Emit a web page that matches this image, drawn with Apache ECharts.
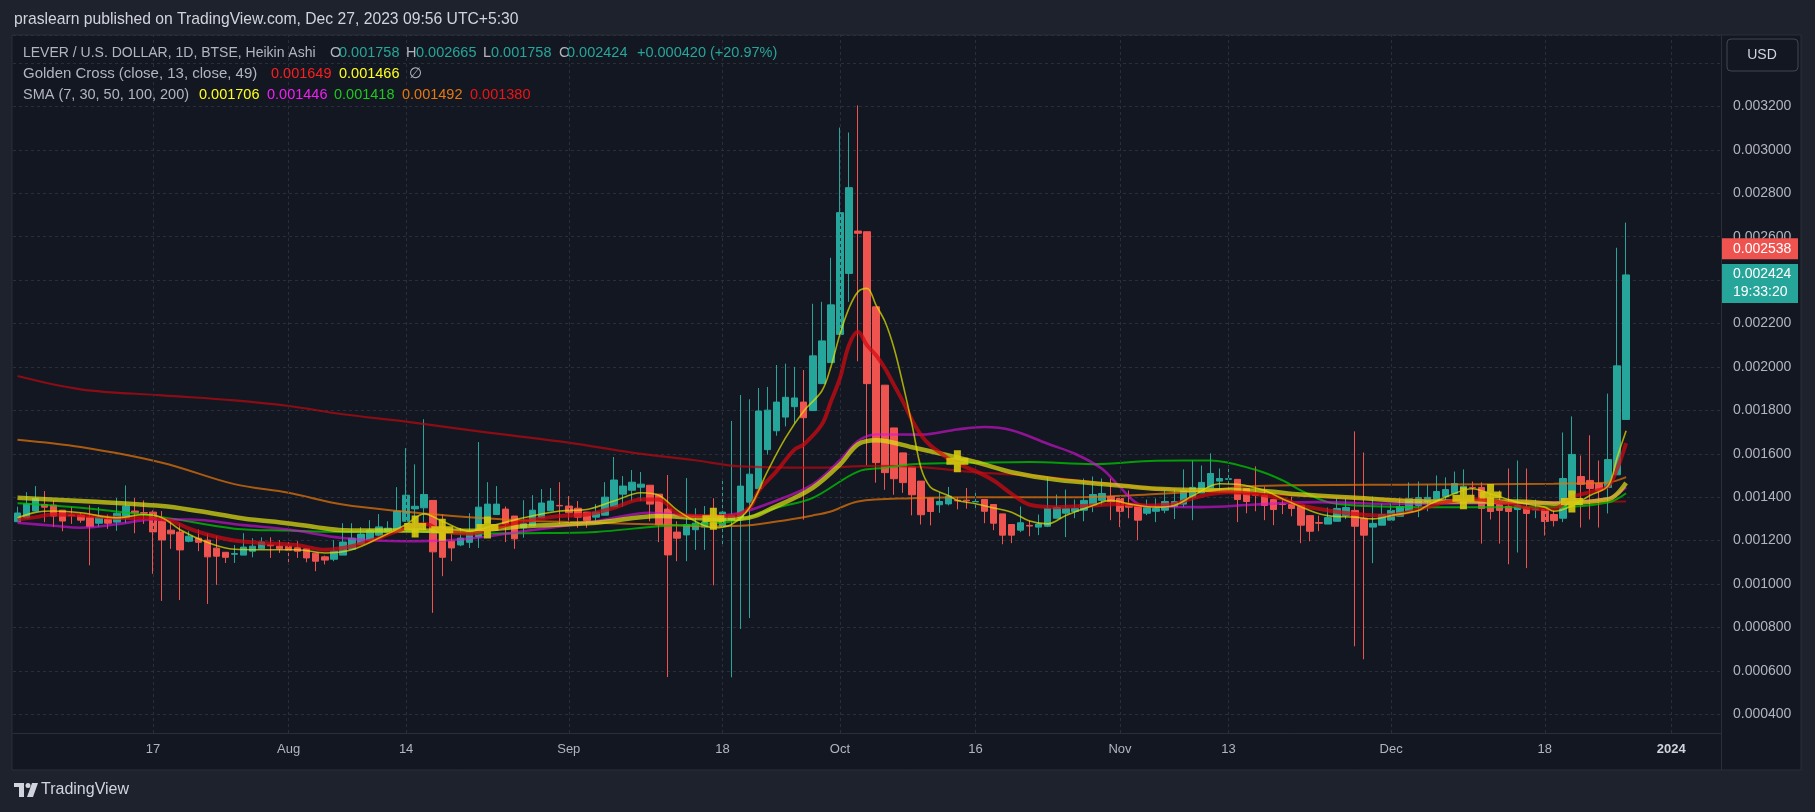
<!DOCTYPE html>
<html><head><meta charset="utf-8">
<script src="https://cdn.jsdelivr.net/npm/echarts@6/dist/echarts.min.js"></script>
<style>html,body{margin:0;padding:0;background:#1e222d;overflow:hidden}#c{width:1815px;height:812px}</style>
</head><body><div id="c"></div>
<script>
// ---------- DATA ----------
const startDate = '2023-07-02';
const slotCount = 189; // daily slots on the time axis (last candle = index 178)
const haOpen = [
.001287,.001305,.001336,.001366,.001363,.001340,.001318,.001317,.001308,.001280,
.001299,.001285,.001305,.001336,.001329,.001331,.001289,.001248,.001239,.001197,
.001211,.001202,.001165,.001146,.001137,.001133,.001151,.001162,.001180,.001174,
.001174,.001167,.001162,.001142,.001125,.001114,.001133,.001160,.001183,.001202,
.001225,.001239,.001248,.001289,.001346,.001351,.001385,.001266,.001197,.001180,
.001192,.001217,.001282,.001320,.001345,.001313,.001259,.001268,.001305,.001337,
.001362,.001359,.001349,.001331,.001308,.001317,.001356,.001414,.001432,.001446,
.001455,.001414,.001345,.001239,.001226,.001250,.001262,.001277,.001266,.001297,
.001305,.001377,.001439,.001619,.001706,.001769,.001817,.001838,.001799,.001923,
.002020,.002150,.002431,.002626,.002623,.002277,.001916,.001719,.001604,.001539,
.001474,.001396,.001365,.001369,.001386,.001386,.001378,.001389,.001366,.001323,
.001274,.001248,.001270,.001262,.001266,.001303,.001326,.001334,.001340,.001363,
.001385,.001403,.001394,.001366,.001362,.001326,.001335,.001340,.001357,.001368,
.001400,.001419,.001443,.001474,.001482,.001482,.001440,.001412,.001408,.001389,
.001368,.001366,.001362,.001315,.001283,.001276,.001289,.001315,.001339,.001302,
.001262,.001271,.001294,.001312,.001336,.001362,.001380,.001385,.001403,.001417,
.001440,.001445,.001445,.001399,.001366,.001357,.001343,.001352,.001343,.001343,
.001320,.001303,.001389,.001495,.001477,.001463,.001445,.001503,.001758];
const haClose = [
.001327,.001369,.001394,.001354,.001313,.001290,.001315,.001294,.001264,.001308,
.001280,.001326,.001359,.001328,.001326,.001240,.001203,.001231,.001157,.001220,
.001192,.001125,.001128,.001123,.001140,.001170,.001174,.001193,.001176,.001162,
.001156,.001151,.001120,.001105,.001110,.001151,.001193,.001211,.001230,.001248,
.001263,.001257,.001336,.001409,.001358,.001412,.001148,.001123,.001166,.001211,
.001243,.001354,.001368,.001368,.001276,.001208,.001279,.001340,.001373,.001382,
.001360,.001328,.001308,.001292,.001331,.001400,.001479,.001451,.001469,.001460,
.001368,.001273,.001134,.001211,.001273,.001280,.001285,.001259,.001331,.001317,
.001451,.001506,.001797,.001801,.001838,.001860,.001857,.001766,.002051,.002120,
.002286,.002711,.002826,.002616,.001923,.001559,.001513,.001485,.001467,.001411,
.001319,.001334,.001380,.001405,.001383,.001383,.001380,.001335,.001280,.001225,
.001225,.001282,.001267,.001276,.001348,.001352,.001348,.001348,.001385,.001412,
.001417,.001379,.001335,.001354,.001294,.001352,.001348,.001380,.001380,.001431,
.001445,.001468,.001509,.001486,.001485,.001389,.001380,.001409,.001362,.001343,
.001366,.001348,.001271,.001243,.001280,.001306,.001348,.001352,.001266,.001225,
.001279,.001320,.001339,.001357,.001394,.001398,.001399,.001426,.001435,.001463,
.001450,.001443,.001348,.001334,.001339,.001334,.001362,.001325,.001345,.001288,
.001292,.001486,.001597,.001459,.001440,.001431,.001573,.002005,.002424];
const haHigh = [
.001356,.001423,.001451,.001428,.001384,.001340,.001356,.001328,.001363,.001354,
.001320,.001396,.001454,.001396,.001385,.001339,.001336,.001289,.001279,.001243,
.001251,.001232,.001220,.001146,.001179,.001234,.001211,.001215,.001215,.001202,
.001193,.001197,.001162,.001142,.001131,.001202,.001280,.001280,.001262,.001294,
.001322,.001289,.001446,.001626,.001551,.001759,.001385,.001320,.001248,.001257,
.001326,.001654,.001469,.001451,.001357,.001313,.001386,.001409,.001437,.001442,
.001469,.001405,.001382,.001331,.001368,.001469,.001585,.001497,.001525,.001516,
.001455,.001414,.001502,.001289,.001488,.001349,.001359,.001395,.001483,.001751,
.001871,.001851,.001903,.001908,.002009,.002015,.002000,.001986,.002291,.002300,
.002503,.003103,.003080,.003205,.002623,.002277,.001916,.001719,.001604,.001539,
.001474,.001396,.001420,.001447,.001400,.001442,.001427,.001389,.001366,.001323,
.001274,.001357,.001292,.001320,.001495,.001412,.001435,.001389,.001486,.001495,
.001486,.001486,.001394,.001431,.001362,.001389,.001394,.001431,.001440,.001528,
.001569,.001546,.001602,.001532,.001546,.001482,.001440,.001542,.001449,.001389,
.001394,.001403,.001362,.001315,.001315,.001352,.001394,.001394,.001703,.001606,
.001403,.001371,.001371,.001398,.001468,.001472,.001458,.001500,.001491,.001518,
.001528,.001472,.001468,.001420,.001431,.001532,.001569,.001532,.001389,.001343,
.001339,.001698,.001772,.001592,.001685,.001569,.001877,.002549,.002665];
const haLow = [
.001287,.001305,.001336,.001285,.001262,.001243,.001277,.001282,.001086,.001263,
.001254,.001245,.001280,.001234,.001277,.001047,.000922,.001162,.000926,.001192,
.001151,.000908,.000996,.001097,.001097,.001133,.001123,.001162,.001120,.001143,
.001093,.001120,.001100,.001059,.001090,.001105,.001133,.001160,.001183,.001202,
.001220,.001228,.001248,.001289,.001217,.001248,.000867,.001036,.001105,.001174,
.001166,.001166,.001282,.001320,.001193,.001162,.001213,.001268,.001305,.001337,
.001277,.001292,.001259,.001259,.001289,.001317,.001356,.001356,.001382,.001382,
.001289,.001193,.000571,.001105,.001105,.001157,.001157,.000994,.001180,.000570,
.000793,.000843,.001439,.001596,.001683,.001726,.001739,.001296,.001799,.001923,
.002020,.002150,.002300,.002026,.001547,.001467,.001434,.001411,.001420,.001316,
.001274,.001270,.001328,.001362,.001344,.001347,.001347,.001280,.001248,.001183,
.001188,.001239,.001220,.001225,.001262,.001303,.001216,.001303,.001289,.001331,
.001363,.001294,.001262,.001303,.001202,.001317,.001285,.001326,.001299,.001354,
.001294,.001419,.001443,.001419,.001431,.001285,.001326,.001335,.001294,.001271,
.001322,.001312,.001188,.001197,.001243,.001276,.001289,.001299,.000713,.000653,
.001096,.001271,.001294,.001312,.001336,.001308,.001335,.001385,.001380,.001417,
.001389,.001385,.001186,.001297,.001186,.001091,.001145,.001073,.001303,.001223,
.001265,.001285,.001389,.001260,.001297,.001260,.001325,.001503,.001758];

// moving averages read at sample bars: [barIndex, value]
const sma7 = [[0,.001305],[2,.00133],[4,.001336],[7,.001328],[11,.001305],[14,.00132],[16,.001305],[18,.00125],[21,.001192],[24,.00116],[27,.001158],[31,.001158],[34,.001143],[37,.001158],[40,.001212],[43,.001274],[45,.001323],[47,.001289],[50,.001243],[53,.001274],[56,.001305],[60,.001336],[63,.001343],[66,.001382],[69,.00142],[71,.001408],[73,.00134],[75,.001289],[77,.001259],[79,.001274],[81,.001351],[83,.00152],[85,.001674],[87,.001797],[89,.001889],[90,.002],[91,.00215],[92,.00227],[93,.002346],[94,.002362],[95,.002285],[96,.002208],[97,.002085],[98,.001916],[99,.001731],[100,.001531],[101,.001447],[102,.001424],[103,.001408],[104,.001385],[106,.00137],[108,.00135],[110,.001331],[112,.00129],[114,.001277],[116,.001316],[119,.001362],[121,.001385],[123,.001369],[126,.001354],[128,.001362],[130,.001405],[133,.001462],[135,.001459],[138,.001431],[140,.001392],[143,.001339],[145,.001315],[148,.001308],[150,.0013],[152,.001315],[155,.001339],[156,.001362],[158,.0014],[161,.001439],[163,.001415],[166,.001377],[169,.001354],[170,.001335],[172,.00136],[174,.001408],[176,.001452],[177,.001582],[178,.001706]];
const sma30 = [[0,.001282],[4,.001268],[7,.001259],[11,.001275],[15,.001297],[19,.001297],[25,.001271],[30,.001251],[36,.001212],[43,.001197],[49,.001205],[56,.001243],[64,.001289],[70,.001328],[75,.001313],[79,.00132],[84,.001385],[88,.001459],[91,.00157],[93,.001659],[95,.001689],[100,.001688],[104,.001712],[107,.001723],[110,.001708],[114,.001646],[117,.0016],[120,.001531],[122,.001446],[124,.001369],[126,.001357],[131,.001354],[137,.001366],[144,.001377],[152,.001369],[160,.001372],[170,.001375],[176,.001395],[178,.001446]];
const sma50 = [[0,.001372],[7,.001351],[16,.001308],[24,.001255],[30,.001246],[36,.00124],[43,.001243],[50,.001232],[56,.001234],[64,.00124],[71,.001266],[76,.001275],[80,.001296],[84,.001351],[88,.001397],[93,.001518],[96,.001535],[99,.001552],[106,.001558],[112,.001562],[119,.001552],[126,.001568],[132,.001569],[137,.001526],[140,.001477],[142,.001431],[145,.001377],[148,.001362],[156,.001354],[170,.001354],[176,.001375],[178,.001418]];
const sma100 = [[0,.001665],[7,.001631],[16,.001559],[24,.00146],[30,.00142],[36,.001366],[43,.001333],[50,.001308],[56,.001293],[64,.001282],[71,.001274],[76,.001266],[80,.001268],[84,.001288],[88,.001316],[90,.001334],[93,.00138],[99,.001395],[106,.0014],[117,.0014],[125,.001412],[131,.001428],[137,.001452],[156,.001458],[170,.001462],[176,.001468],[178,.001492]];
const sma200 = [[0,.001958],[7,.001897],[16,.001869],[24,.001846],[30,.00182],[36,.001782],[43,.001748],[50,.001709],[61,.001651],[68,.001605],[75,.00157],[80,.001542],[88,.001536],[95,.001544],[100,.001538],[106,.001514],[112,.0015],[119,.001469],[126,.001439],[131,.00143],[140,.00141],[150,.001393],[160,.001383],[170,.001377],[178,.00138]];
const gcFast13 = [[0,.001297],[2,.001308],[4,.00132],[7,.001317],[11,.001305],[15,.001303],[17,.00129],[19,.001255],[21,.001228],[24,.0012],[27,.001189],[31,.001179],[34,.001158],[37,.001174],[40,.001212],[43,.001259],[45,.001277],[47,.001245],[50,.001231],[53,.001259],[56,.001289],[60,.001313],[63,.00132],[66,.001351],[69,.001389],[71,.001389],[73,.001325],[75,.001313],[79,.001313],[81,.001351],[82,.001428],[84,.00152],[86,.00162],[87,.001643],[89,.001735],[90,.00184],[91,.001947],[92,.0021],[93,.002162],[94,.0021],[95,.002054],[96,.001993],[97,.001916],[98,.001839],[99,.001754],[100,.001685],[101,.001639],[102,.001608],[103,.001577],[104,.001554],[106,.00152],[108,.001477],[110,.001415],[112,.001365],[115,.001354],[119,.001362],[122,.001369],[125,.001362],[128,.001369],[130,.001395],[132,.001415],[134,.001423],[137,.001415],[140,.001392],[142,.001362],[145,.001339],[148,.001323],[151,.001315],[153,.001323],[156,.001354],[158,.001377],[161,.001392],[165,.001369],[168,.001346],[170,.001346],[172,.0014],[174,.001423],[176,.00145],[177,.00153],[178,.001649]];
const gcSlow49 = [[0,.001397],[7,.001382],[16,.001359],[20,.001336],[25,.001302],[30,.001279],[33,.001262],[36,.001248],[43,.001246],[50,.001245],[56,.001266],[64,.001282],[71,.001313],[76,.001302],[80,.0013],[84,.001359],[88,.001443],[91,.00155],[93,.001643],[95,.001662],[99,.00163],[106,.001562],[110,.001515],[115,.00148],[122,.001454],[126,.001439],[131,.001433],[137,.001431],[142,.001412],[148,.001397],[156,.00138],[166,.00138],[170,.00137],[176,.00139],[177,.001415],[178,.001466]];
const crossMarks = [[44,.001265],[47,.00125],[52,.00126],[77,.0013],[104,.001565],[160,.001395],[163,.00141],[172,.00138]];

const tickDates = ['2023-07-17','2023-08-01','2023-08-14','2023-09-01','2023-09-18','2023-10-01','2023-10-16','2023-11-01','2023-11-13','2023-12-01','2023-12-18','2024-01-01'];
const tickTexts = ['17','Aug','14','Sep','18','Oct','16','Nov','13','Dec','18','2024'];
const lastClose = 0.002424, realPrice = 0.002538;

// ---------- BUILD ----------
const categories = [];
{ const d0 = new Date(startDate + 'T00:00:00Z');
  for (let i = 0; i < slotCount; i++) { const d = new Date(d0.getTime() + i*86400000); categories.push(d.toISOString().slice(0,10)); } }
const tickMap = {}; tickDates.forEach((d,k)=>{ tickMap[d] = tickTexts[k]; });
const candles = haOpen.map((o,i)=>[o, haClose[i], haLow[i], haHigh[i]]);

const FONT = '"Liberation Sans", Arial, sans-serif';
const GRID = {left:13, right:94, top:35, bottom:79};
const chart = echarts.init(document.getElementById('c'), null, {width:1815, height:812});

function maLine(name, data, color, width, z){
  return {name, type:'line', data, smooth:0.35, showSymbol:false, symbol:'none', silent:true, z,
          lineStyle:{color, width}, emphasis:{disabled:true}};
}
const crossColor = 'rgba(214,202,16,0.9)';

const option = {
  animation:false,
  backgroundColor:'#1e222d',
  textStyle:{fontFamily:FONT},
  grid:[{left:GRID.left, right:GRID.right, top:GRID.top, bottom:GRID.bottom, containLabel:false}],
  xAxis:{type:'category', data:categories, boundaryGap:true,
    axisLine:{show:true, lineStyle:{color:'#2a2e39'}}, axisTick:{show:false},
    axisLabel:{interval:(idx,val)=>tickMap[val]!==undefined, color:'#b2b5be', fontSize:13, margin:10, fontFamily:FONT,
      formatter:(val)=>{ const t = tickMap[val]; if(t===undefined) return ''; return t==='2024' ? '{y|2024}' : t; },
      rich:{y:{fontWeight:'bold', color:'#d1d4dc', fontSize:13, fontFamily:FONT}}},
    splitLine:{show:false}},
  yAxis:{type:'value', position:'right', min:0.0003134, max:0.0035294, splitNumber:16, minInterval:0.0002, maxInterval:0.0002,
    axisLine:{show:true, lineStyle:{color:'#2a2e39'}}, axisTick:{show:false},
    axisLabel:{color:'#b2b5be', fontSize:14, margin:12, fontFamily:FONT, showMinLabel:false, showMaxLabel:false,
      formatter:(v)=>{ if (Math.abs(v-0.0034)<1e-9 || v>0.00345 || v<0.00035) return ''; return v.toFixed(6); }},
    splitLine:{show:true, lineStyle:{color:'#2a2e39', type:[3,3], width:1}}},
  series:[
    {name:'vgrid', type:'line', data:[], silent:true, z:1,
      markLine:{silent:true, symbol:['none','none'], label:{show:false}, animation:false,
        lineStyle:{color:'#2a2e39', type:[3,3], width:1},
        data: tickDates.map(d=>({xAxis:d}))}},
    {name:'HA', type:'candlestick', data:candles, barWidth:7, z:3, silent:true,
      itemStyle:{color:'#26a69a', color0:'#ef5350', borderColor:'#26a69a', borderColor0:'#ef5350', borderWidth:1},
      markLine:{silent:true, symbol:['none','none'], label:{show:false}, animation:false,
        lineStyle:{color:'#26a69a', type:[1,3], width:1}, data:[{yAxis:lastClose}]}},
    maLine('SMA200', sma200, 'rgba(190,8,16,0.70)', 2.2, 4),
    maLine('SMA100', sma100, 'rgba(230,118,10,0.72)', 2, 4),
    maLine('SMA50', sma50, 'rgba(0,200,0,0.75)', 2, 4),
    maLine('SMA30', sma30, 'rgba(220,20,220,0.62)', 2.6, 4),
    maLine('GC49', gcSlow49, 'rgba(222,222,20,0.72)', 4.5, 5),
    maLine('GC13', gcFast13, 'rgba(210,10,16,0.72)', 4, 5),
    maLine('SMA7', sma7, 'rgba(225,225,0,0.72)', 1.6, 6),
    {name:'crosses', type:'custom', data:crossMarks, z:7, silent:true, encode:{x:0, y:1},
      renderItem:(params, api)=>{
        const p = api.coord([api.value(0), api.value(1)]);
        return {type:'path', shape:{pathData:
          `M${p[0]-3.5},${p[1]-11}H${p[0]+3.5}V${p[1]-3.5}H${p[0]+11}V${p[1]+3.5}H${p[0]+3.5}V${p[1]+11}H${p[0]-3.5}V${p[1]+3.5}H${p[0]-11}V${p[1]-3.5}H${p[0]-3.5}Z`},
          style:{fill:crossColor}};
      }}
  ]
};
chart.setOption(option);

const yPix = v => chart.convertToPixel({yAxisIndex:0}, v);
const T = (x,y,text,fill,size)=>({type:'text', z:100, silent:true,
  style:{x, y, text, fill, font:(size||14.5)+'px '+FONT, align:'left', verticalAlign:'middle', textAlign:'left', textVerticalAlign:'middle'}});
const grey='#b2b5be', teal='#26a69a';
const yRed = yPix(realPrice), yTeal = yPix(lastClose);
const els = [
  {type:'rect', z:-10, silent:true, shape:{x:12, y:35, width:1789, height:735}, style:{fill:'#131722', stroke:'#2a2e39', lineWidth:1}},
  {type:'line', z:10, silent:true, shape:{x1:1721.5, y1:733, x2:1721.5, y2:770}, style:{stroke:'#2a2e39', lineWidth:1}},
  T(14, 20, 'praslearn published on TradingView.com, Dec 27, 2023 09:56 UTC+5:30', '#d1d4dc', 15.7),
  T(23, 53, 'LEVER / U.S. DOLLAR, 1D, BTSE, Heikin Ashi', grey, 14),
  T(330, 53, 'O', grey), T(339, 53, '0.001758', teal),
  T(406, 53, 'H', grey), T(416, 53, '0.002665', teal),
  T(483, 53, 'L', grey), T(491, 53, '0.001758', teal),
  T(559, 53, 'C', grey), T(567, 53, '0.002424', teal),
  T(637, 53, '+0.000420 (+20.97%)', teal),
  T(23, 74, 'Golden Cross (close, 13, close, 49)', grey, 15),
  T(271, 74, '0.001649', '#ff1e1e'), T(339, 74, '0.001466', '#ffff1a'), T(409, 74, '\u2205', grey),
  T(23, 95, 'SMA (7, 30, 50, 100, 200)', grey),
  T(199, 95, '0.001706', '#ffff1a'), T(267, 95, '0.001446', '#f020f0'), T(334, 95, '0.001418', '#1ec81e'),
  T(402, 95, '0.001492', '#e6780f'), T(470, 95, '0.001380', '#f01414'),
  // USD button
  {type:'rect', z:100, silent:true, shape:{x:1727, y:39, width:71, height:32, r:4}, style:{fill:'#131722', stroke:'#434651', lineWidth:1}},
  {type:'text', z:101, silent:true, style:{x:1762, y:55, text:'USD', fill:'#d1d4dc', font:'14px '+FONT, align:'center', textAlign:'center', verticalAlign:'middle', textVerticalAlign:'middle'}},
  // price labels
  {type:'rect', z:100, silent:true, shape:{x:1722, y:yRed-12, width:76, height:21}, style:{fill:'#ef5350'}},
  T(1733, yRed-1.5, realPrice.toFixed(6), '#ffffff', 14),
  {type:'rect', z:100, silent:true, shape:{x:1722, y:yTeal-11, width:76, height:39}, style:{fill:'#26a69a'}},
  T(1733, yTeal-1, lastClose.toFixed(6), '#ffffff', 14),
  T(1733, yTeal+17, '19:33:20', '#ffffff', 14),
  // TradingView logo
  {type:'rect', z:100, silent:true, shape:{x:14, y:783, width:10, height:4}, style:{fill:'#d1d4dc'}},
  {type:'rect', z:100, silent:true, shape:{x:19, y:783, width:5, height:14}, style:{fill:'#d1d4dc'}},
  {type:'circle', z:100, silent:true, shape:{cx:28, cy:785.5, r:2.5}, style:{fill:'#d1d4dc'}},
  {type:'polygon', z:100, silent:true, shape:{points:[[32,783],[38,783],[33,797],[27,797]]}, style:{fill:'#d1d4dc'}},
  T(41, 790, 'TradingView', '#d1d4dc', 16)
];
chart.setOption({graphic:{elements:els}});
</script></body></html>
